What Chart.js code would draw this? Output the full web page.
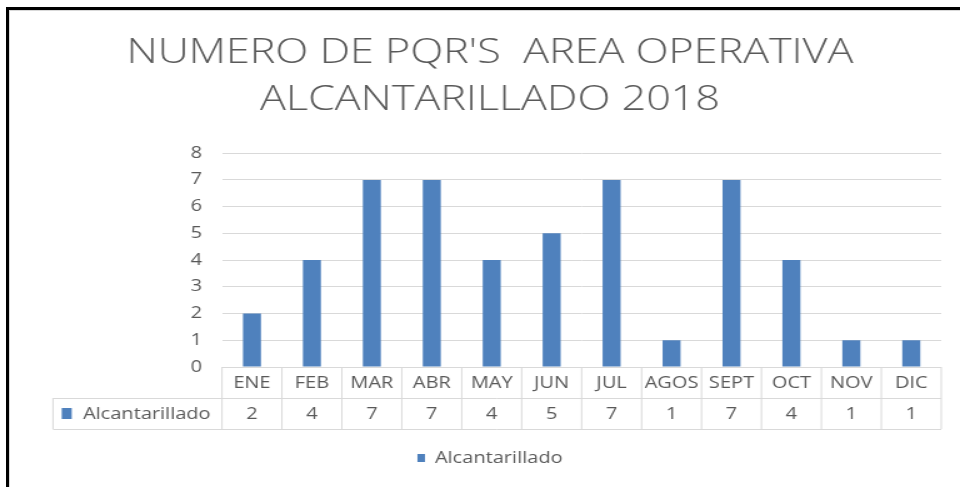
<!DOCTYPE html>
<html>
<head>
<meta charset="utf-8">
<script src="https://cdn.jsdelivr.net/npm/chart.js@4.4.1/dist/chart.umd.min.js"></script>
<style>
  html, body { margin: 0; padding: 0; background: #fff; }
  #wrap { position: relative; width: 960px; height: 487px; }
  #chart { display: block; }
  #frame {
    position: absolute; left: 6px; top: 7px; right: 0; bottom: 0;
    border-top: 3px solid #000; border-left: 3px solid #000;
    pointer-events: none;
  }
  #frame::after {
    content: ""; position: absolute; left: 0; top: 0; right: 0; bottom: 0;
    border-top: 1px solid #d9d9d9; border-left: 1px solid #d9d9d9;
  }
</style>
</head>
<body>
<div id="wrap">
  <!-- the source picture is stretched sideways, so the canvas is drawn at 768 wide and shown at 960 -->
  <canvas id="chart" width="768" height="487" style="width:960px;height:487px"></canvas>
  <div id="frame"></div>
</div>
<script>
const months = ["ENE", "FEB", "MAR", "ABR", "MAY", "JUN", "JUL", "AGOS", "SEPT", "OCT", "NOV", "DIC"];
const seriesName = "Alcantarillado";
const values = [2, 4, 7, 7, 4, 5, 7, 1, 7, 4, 1, 1];
const titleLines = ["NUMERO DE PQR'S  AREA OPERATIVA", "ALCANTARILLADO 2018"];

const BAR_COLOR = "#4f81bd";
const GRID_COLOR = "#d9d9d9";
const TEXT_COLOR = "#595959";
const FONT = "'Open Sans', sans-serif";

const ROW_H = 31;
const TABLE_LEFT = 42.4;

// data table under the plot, columns taken from the x scale
const dataTable = {
  id: "dataTable",
  afterDraw(chart) {
    const { ctx, chartArea } = chart;
    const x = chart.scales.x;
    const top = Math.round(chartArea.bottom);
    const step = (chartArea.right - chartArea.left) / months.length;

    ctx.save();
    ctx.strokeStyle = GRID_COLOR;
    ctx.lineWidth = 1;
    ctx.beginPath();
    ctx.moveTo(chartArea.left, top + 0.5);
    ctx.lineTo(chartArea.right, top + 0.5);
    ctx.moveTo(TABLE_LEFT, top + ROW_H + 0.5);
    ctx.lineTo(chartArea.right, top + ROW_H + 0.5);
    ctx.moveTo(TABLE_LEFT, top + 2 * ROW_H + 0.5);
    ctx.lineTo(chartArea.right, top + 2 * ROW_H + 0.5);
    for (let i = 0; i <= months.length; i++) {
      const px = chartArea.left + i * step;
      ctx.moveTo(px, top);
      ctx.lineTo(px, top + 2 * ROW_H);
    }
    ctx.moveTo(TABLE_LEFT, top + ROW_H);
    ctx.lineTo(TABLE_LEFT, top + 2 * ROW_H);
    ctx.stroke();

    ctx.fillStyle = TEXT_COLOR;
    ctx.font = "16px " + FONT;
    ctx.textAlign = "center";
    ctx.textBaseline = "middle";
    months.forEach((m, i) => {
      const cx = x.getPixelForValue(i);
      ctx.fillText(m, cx, top + ROW_H / 2 + 1);
      ctx.fillText(String(values[i]), cx, top + ROW_H * 1.5 + 1);
    });

    ctx.fillStyle = BAR_COLOR;
    ctx.fillRect(TABLE_LEFT + 7, top + ROW_H + 10, 8, 11);
    ctx.fillStyle = TEXT_COLOR;
    ctx.textAlign = "left";
    ctx.fillText(seriesName, TABLE_LEFT + 24, top + ROW_H * 1.5 + 1);
    ctx.restore();
  }
};

new Chart(document.getElementById("chart"), {
  type: "bar",
  data: {
    labels: months,
    datasets: [{
      label: seriesName,
      data: values,
      backgroundColor: BAR_COLOR,
      barPercentage: 0.3,
      categoryPercentage: 1
    }]
  },
  options: {
    responsive: false,
    animation: false,
    layout: { padding: { left: 31, right: 15, top: 8, bottom: 11 } },
    plugins: {
      title: {
        display: true,
        text: titleLines,
        color: TEXT_COLOR,
        font: { family: FONT, size: 34.5, weight: "300", lineHeight: 1.35 },
        padding: { top: 22, bottom: 30 }
      },
      legend: {
        position: "bottom",
        labels: {
          color: TEXT_COLOR,
          font: { family: FONT, size: 16 },
          boxWidth: 6,
          boxHeight: 8,
          padding: 12
        }
      },
      tooltip: { enabled: false }
    },
    scales: {
      x: {
        ticks: { display: false },
        grid: { display: false },
        border: { display: false },
        afterFit(scale) { scale.height = 2 * ROW_H + 9; }
      },
      y: {
        min: 0,
        max: 8,
        ticks: { stepSize: 1, color: TEXT_COLOR, font: { family: FONT, size: 16 }, padding: 16 },
        grid: { color: GRID_COLOR, drawTicks: false },
        border: { display: false },
        afterFit(scale) { scale.width = 146.6; }
      }
    }
  },
  plugins: [dataTable]
});
</script>
</body>
</html>
